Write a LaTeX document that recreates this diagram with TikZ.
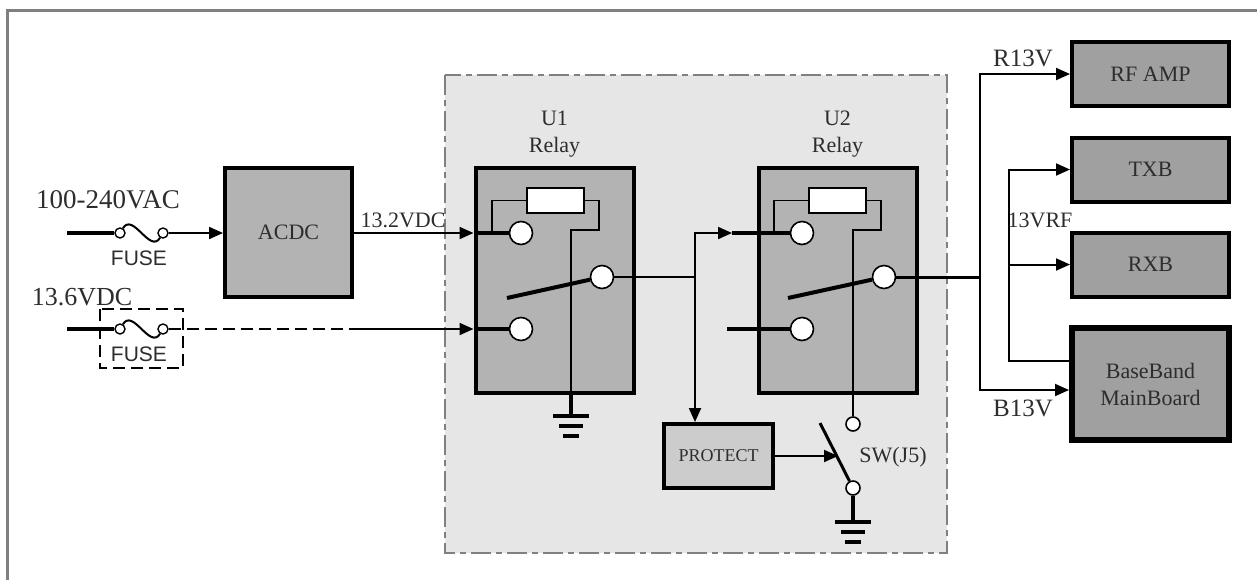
\documentclass[tikz,border=0pt]{standalone}
\usepackage{fontspec}
\setmainfont{Liberation Serif}
\newfontfamily\fusefont{Liberation Sans}
\usetikzlibrary{positioning,arrows.meta}
\definecolor{blkgray}{RGB}{179,179,179}
\definecolor{outgray}{RGB}{160,160,160}
\definecolor{protgray}{RGB}{204,204,204}
\definecolor{zonegray}{RGB}{230,230,230}
\definecolor{framegray}{RGB}{128,128,128}
\definecolor{textgray}{RGB}{45,45,45}

\tikzset{
  blk/.style={draw, line width=2pt, fill=blkgray, text=textgray, inner sep=0pt,
    font=\fontsize{11}{13.5}\selectfont},
  outblk/.style={blk, fill=outgray, minimum width=78.5pt, minimum height=32pt},
  relay/.style={blk, minimum width=79pt, minimum height=112.5pt},
  contact/.style={circle, draw, fill=white, line width=0.8pt, minimum size=11.5pt, inner sep=0pt},
  fpin/.style={circle, draw, fill=white, line width=0.7pt, minimum size=5pt, inner sep=0pt},
  coilbox/.style={draw, fill=white, line width=0.6pt, minimum width=28.5pt, minimum height=12.5pt, inner sep=0pt},
  wire/.style={line width=1pt},
  thinwire/.style={line width=0.6pt},
  heavy/.style={line width=2pt},
  arr/.style={-{Triangle[length=7pt,width=6pt]}},
  lbl/.style={text=textgray, inner sep=0pt, font=\fontsize{11}{13.5}\selectfont},
}
\newcommand{\earth}[1]{%
  \draw[line width=2pt] (#1) ++(-18,0) -- ++(36,0) ++(-30,10) -- ++(24,0) ++(-20,10) -- ++(16,0);}

\begin{document}
\begin{tikzpicture}[x=0.5pt,y=-0.5pt]
\useasboundingbox (0,0) rectangle (1257,580);

% frame and protection zone
\draw[framegray, line width=1.5pt] (7,580) -- (7,10) -- (1257,10);
\draw[draw=framegray, fill=zonegray, line width=0.8pt,
  dash pattern=on 10pt off 2.5pt on 3pt off 2.5pt] (445,75) rectangle (947,553);

% blocks
\node[blk, minimum width=63.5pt, minimum height=64.5pt] (acdc) at (288.5,232.5) {ACDC};
\node[relay] (relayA) at (554.5,280.5) {};
\node[relay] (relayB) at (837.5,280.5) {};
\node[lbl, align=center, above=4pt of relayA] (relayAlbl) {U1\\Relay};
\node[lbl, align=center, above=4pt of relayB] (relayBlbl) {U2\\Relay};
\node[blk, fill=protgray, minimum width=54.5pt, minimum height=32pt,
  font=\fontsize{9}{10}\selectfont] (protect) at (718.5,456) {PROTECT};
\node[outblk] (rfamp) at (1150.5,74) {RF AMP};
\node[outblk] (txb) at (1150.5,169.5) {TXB};
\node[outblk] (rxb) at (1150.5,264.5) {RXB};
\node[outblk, line width=3pt, minimum height=56pt, align=center] (bbmain) at (1150.5,384) {BaseBand\\MainBoard};

% relay internals
\node[coilbox] (coilA) at (555.5,200.5) {};
\node[coilbox] (coilB) at (837.5,200.5) {};
\node[contact] (a1) at (521,233) {};
\node[contact] (a2) at (521,329) {};
\node[contact] (ac) at (602,277) {};
\node[contact] (b1) at (802,233) {};
\node[contact] (b2) at (802,329) {};
\node[contact] (bc) at (884,277) {};
\node[contact, minimum size=7pt] (sw1) at (853,424) {};
\node[contact, minimum size=7pt] (sw2) at (853,488) {};

% fuses
\node[fpin] (fa1) at (120,233) {};
\node[fpin] (fa2) at (163,233) {};
\node[fpin] (fb1) at (120,329) {};
\node[fpin] (fb2) at (163,329) {};
\node[lbl, font=\fusefont\fontsize{10.5}{12}\selectfont] (fusealbl) at (139,258) {FUSE};
\node[lbl, font=\fusefont\fontsize{10.5}{12}\selectfont] (fuseblbl) at (139,354) {FUSE};
\draw[line width=1.3pt, dash pattern=on 6pt off 3pt] (100,309) rectangle (183,368);

% labels
\node[lbl, font=\fontsize{13.5}{15}\selectfont] (aclbl) at (108,200) {100-240VAC};
\node[lbl, font=\fontsize{13}{15}\selectfont] (dclbl) at (82,297) {13.6VDC};
\node[lbl] (vdclbl) at (403,220) {13.2VDC};
\node[lbl] (swlbl) at (893,457) {SW(J5)};
\node[lbl, font=\fontsize{12.5}{14}\selectfont] (rlbl) at (1023,58) {R13V};
\node[lbl, font=\fontsize{12.5}{14}\selectfont] (blbl) at (1023,408) {B13V};
\node[lbl] (rflbl) at (1040,220) {13VRF};

% points
\coordinate (acin) at (67,233);
\coordinate (dcin) at (67,329);
\coordinate (dcmid) at (350,329);
\coordinate (jn) at (695,277);
\coordinate (u2in) at (732,233);
\coordinate (u2stub) at (727,329);
\coordinate (gndA) at (571,416);
\coordinate (gndB) at (853,522);
\coordinate (swtop) at (820,423);
\coordinate (swarm) at (838,456);
\coordinate (busR) at (980,277);
\coordinate (busT) at (1009,169.5);

% inputs
\draw[heavy] (acin) -- (fa1);
\draw[wire] (fa1) .. controls (133,212) and (150,254) .. (fa2);
\draw[wire, arr] (fa2) -- (acdc.west |- fa2);
\draw[heavy] (dcin) -- (fb1);
\draw[wire] (fb1) .. controls (133,308) and (150,350) .. (fb2);
\draw[wire, dashed, dash pattern=on 6pt off 3pt] (fb2) -- (dcmid);
\draw[wire, arr] (dcmid) -- (relayA.west |- a2);
\draw[heavy] (relayA.west |- a2) -- (a2);
\draw[wire, arr] (acdc.east |- a1) -- (relayA.west |- a1);
\draw[heavy] (relayA.west |- a1) -- (a1);

% relay U1
\draw[thinwire] (492,233) |- (coilA.west);
\draw[thinwire] (coilA.east) -| (599,230) -| (gndA);
\draw[heavy] (gndA |- relayA.south) -- (gndA);
\earth{gndA}
\draw[heavy] (507,298) -- (ac);

% U1 to U2 and protect
\draw[wire] (ac) -- (jn);
\draw[wire, arr] (jn) |- (u2in);
\draw[wire, arr] (jn) -- (jn |- protect.north);
\draw[heavy] (u2in) -- (b1);
\draw[heavy] (u2stub) -- (b2);

% relay U2
\draw[thinwire] (774,233) |- (coilB.west);
\draw[thinwire] (coilB.east) -| (881,230) -| (sw1 |- relayB.south);
\draw[wire] (sw1 |- relayB.south) -- (sw1);
\draw[heavy] (788,298) -- (bc);

% switch
\draw[line width=1.5pt] (swtop) -- (sw2);
\draw[wire, arr] (protect.east) -- (swarm);
\draw[heavy] (sw2) -- (gndB);
\earth{gndB}

% outputs
\draw[line width=1.5pt] (bc) -- (busR);
\draw[wire, arr] (busR) |- (rfamp.west);
\draw[wire, arr] (busR) |- ([yshift=-3pt]bbmain.west);
\draw[wire, arr] ([yshift=11.5pt]bbmain.west) -| (busT) -- (txb.west);
\draw[wire, arr] (busT |- rxb.west) -- (rxb.west);
\end{tikzpicture}
\end{document}
